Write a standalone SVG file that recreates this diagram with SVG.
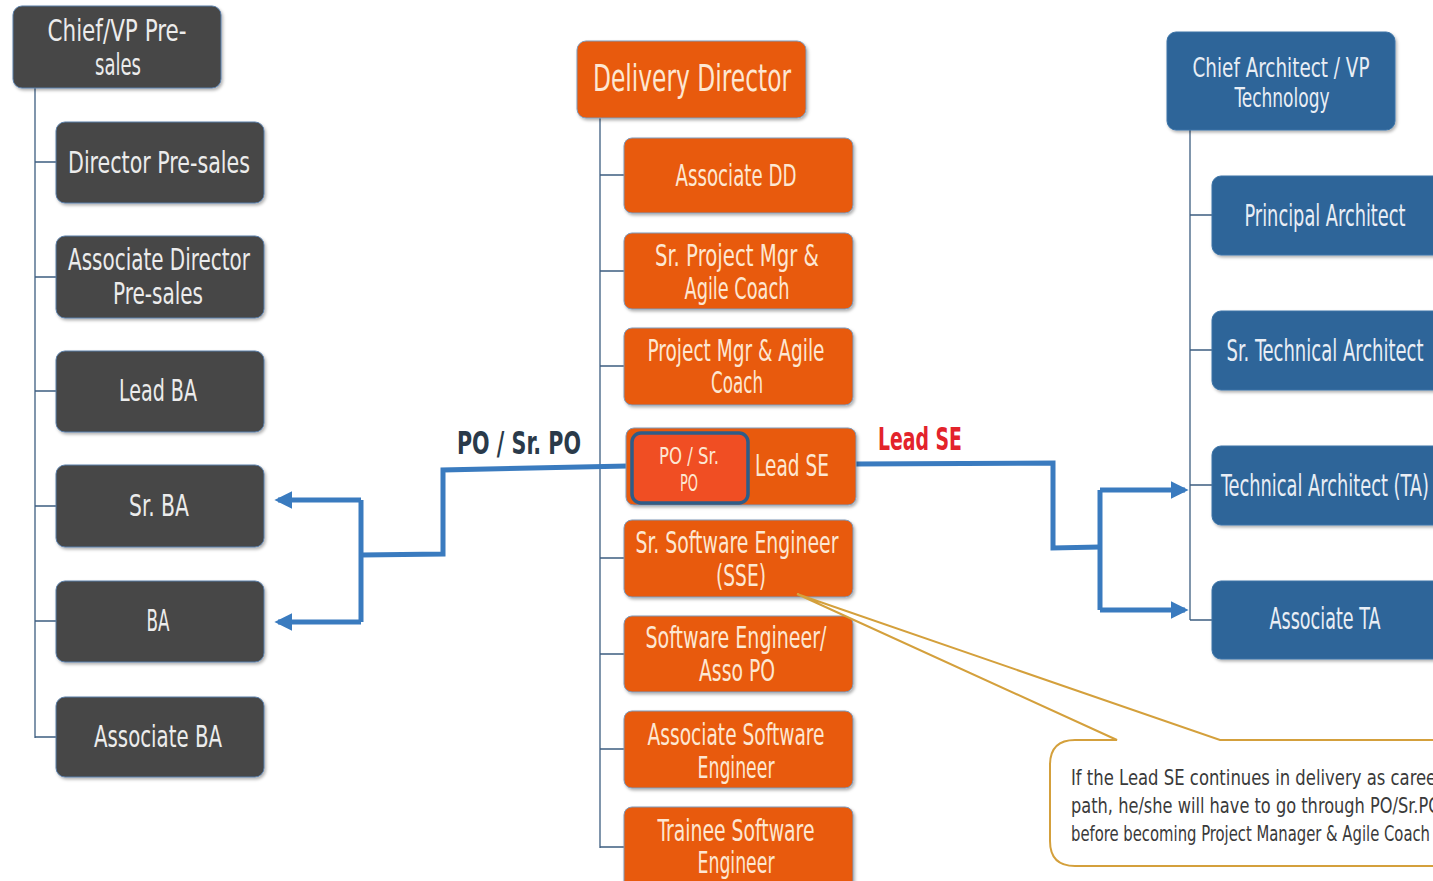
<svg xmlns="http://www.w3.org/2000/svg" width="1433" height="881" viewBox="0 0 1433 881">
<defs>
<filter id="sh" x="-10%" y="-10%" width="125%" height="130%">
<feDropShadow dx="1.5" dy="2" stdDeviation="1.5" flood-color="#000" flood-opacity="0.3"/>
</filter>
<marker id="ah" viewBox="0 0 10 10" refX="8" refY="5" markerWidth="3.6" markerHeight="3.6" orient="auto">
<path d="M0,0 L10,5 L0,10 z" fill="#3a7bbf"/>
</marker>
<style>
text{font-family:"DejaVu Sans Condensed","Liberation Sans Narrow","DejaVu Sans",sans-serif;text-anchor:middle;dominant-baseline:central}
.g rect{fill:#474747;stroke:#5a7ea8;stroke-width:1;filter:url(#sh)}
.g text{fill:#ececec;font-size:30px}
.o rect{fill:#e85a0d;stroke:#7e99b8;stroke-width:1;filter:url(#sh)}
.o text{fill:#fde7d2;font-size:30px}
.b rect{fill:#2d6599;stroke:#3c74a8;stroke-width:1;filter:url(#sh)}
.b text{fill:#e9eef5;font-size:30px}
.tree{stroke:#3d5e80;stroke-width:1.3;fill:none}
.conn{stroke:#3a7bbf;stroke-width:5;fill:none;stroke-linejoin:miter}
.lbl{font-weight:bold;font-size:32px}
.note{fill:#3a3a3a;font-size:22px;text-anchor:start}
</style>
</defs>

<g id="connectors">
<path class="tree" d="M35,88 V738 M35,162 H56 M35,277 H56 M35,391 H56 M35,506 H56 M35,621 H56 M35,737 H56"/>
<path class="tree" d="M600,118 V848 M600,175 H624 M600,271 H624 M600,366 H624 M600,466 H626 M600,558 H624 M600,654 H624 M600,749 H624 M600,847 H624"/>
<path class="tree" d="M1190,130 V620 M1190,215 H1212 M1190,350 H1212 M1190,485 H1212 M1190,620 H1212"/>
<path class="conn" d="M628,466 L443,470 L443,554 L361,555"/>
<path class="conn" d="M361,500 V622"/>
<path class="conn" d="M361,500 H278" marker-end="url(#ah)"/>
<path class="conn" d="M361,622 H278" marker-end="url(#ah)"/>
<path class="conn" d="M856,464 L1053,463 L1053,548 L1100,547"/>
<path class="conn" d="M1100,490 V610"/>
<path class="conn" d="M1100,490 H1185" marker-end="url(#ah)"/>
<path class="conn" d="M1100,610 H1185" marker-end="url(#ah)"/>
</g>

<text x="519" y="443" class="lbl" fill="#2a3a4a" textLength="124" lengthAdjust="spacingAndGlyphs">PO / Sr. PO</text>
<text x="920" y="439" class="lbl" fill="#e3232b" textLength="84" lengthAdjust="spacingAndGlyphs">Lead  SE</text>

<g id="n-chief-presales" class="g"><rect x="13" y="6" width="208" height="82" rx="9"/><text x="117" y="30" textLength="139" lengthAdjust="spacingAndGlyphs">Chief/VP  Pre-</text><text x="118" y="64" textLength="46" lengthAdjust="spacingAndGlyphs">sales</text></g>
<g id="n-director-presales" class="g"><rect x="56" y="122" width="208" height="81" rx="9"/><text x="159" y="162" textLength="182" lengthAdjust="spacingAndGlyphs">Director  Pre-sales</text></g>
<g id="n-assoc-director-presales" class="g"><rect x="56" y="236" width="208" height="82" rx="9"/><text x="159" y="259" textLength="182" lengthAdjust="spacingAndGlyphs">Associate  Director</text><text x="158" y="293" textLength="90" lengthAdjust="spacingAndGlyphs">Pre-sales</text></g>
<g id="n-lead-ba" class="g"><rect x="56" y="351" width="208" height="81" rx="9"/><text x="158" y="390" textLength="78" lengthAdjust="spacingAndGlyphs">Lead  BA</text></g>
<g id="n-sr-ba" class="g"><rect x="56" y="465" width="208" height="82" rx="9"/><text x="159" y="505" textLength="60" lengthAdjust="spacingAndGlyphs">Sr. BA</text></g>
<g id="n-ba" class="g"><rect x="56" y="581" width="208" height="81" rx="9"/><text x="158" y="620" textLength="23" lengthAdjust="spacingAndGlyphs">BA</text></g>
<g id="n-assoc-ba" class="g"><rect x="56" y="697" width="208" height="80" rx="9"/><text x="158" y="736" textLength="128" lengthAdjust="spacingAndGlyphs">Associate  BA</text></g>

<g id="n-delivery-director" class="o"><rect x="577" y="41" width="229" height="77" rx="9"/><text x="692" y="78" style="font-size:38px" textLength="198" lengthAdjust="spacingAndGlyphs">Delivery  Director</text></g>
<g id="n-assoc-dd" class="o"><rect x="624" y="138" width="229" height="75" rx="8"/><text x="736" y="175" textLength="121" lengthAdjust="spacingAndGlyphs">Associate  DD</text></g>
<g id="n-sr-pm" class="o"><rect x="624" y="233" width="229" height="76" rx="8"/><text x="737" y="255" textLength="164" lengthAdjust="spacingAndGlyphs">Sr. Project  Mgr  &amp;</text><text x="737" y="288" textLength="105" lengthAdjust="spacingAndGlyphs">Agile  Coach</text></g>
<g id="n-pm" class="o"><rect x="624" y="328" width="229" height="77" rx="8"/><text x="736" y="350" textLength="177" lengthAdjust="spacingAndGlyphs">Project  Mgr  &amp; Agile</text><text x="737" y="382" textLength="52" lengthAdjust="spacingAndGlyphs">Coach</text></g>
<g id="n-lead-se" class="o"><rect x="626" y="428" width="230" height="77" rx="8"/><text x="792" y="465" textLength="74" lengthAdjust="spacingAndGlyphs">Lead  SE</text></g>
<g id="n-po" class="o"><rect x="632" y="433" width="116" height="70" rx="9" style="fill:#f04e23;stroke:#2e5c88;stroke-width:3.5;filter:none"/><text x="689" y="456" style="font-size:23px" textLength="60" lengthAdjust="spacingAndGlyphs">PO / Sr.</text><text x="689" y="483" style="font-size:23px" textLength="18" lengthAdjust="spacingAndGlyphs">PO</text></g>
<g id="n-sse" class="o"><rect x="624" y="520" width="229" height="77" rx="8"/><text x="737" y="542" textLength="203" lengthAdjust="spacingAndGlyphs">Sr. Software  Engineer</text><text x="741" y="575" textLength="50" lengthAdjust="spacingAndGlyphs">(SSE)</text></g>
<g id="n-se" class="o"><rect x="624" y="616" width="229" height="76" rx="8"/><text x="736" y="637" textLength="181" lengthAdjust="spacingAndGlyphs">Software  Engineer/</text><text x="737" y="670" textLength="76" lengthAdjust="spacingAndGlyphs">Asso  PO</text></g>
<g id="n-ase" class="o"><rect x="624" y="711" width="229" height="77" rx="8"/><text x="736" y="734" textLength="177" lengthAdjust="spacingAndGlyphs">Associate  Software</text><text x="736" y="767" textLength="77" lengthAdjust="spacingAndGlyphs">Engineer</text></g>
<g id="n-tse" class="o"><rect x="624" y="807" width="229" height="84" rx="8"/><text x="736" y="830" textLength="157" lengthAdjust="spacingAndGlyphs">Trainee  Software</text><text x="736" y="862" textLength="77" lengthAdjust="spacingAndGlyphs">Engineer</text></g>

<g id="n-chief-architect" class="b"><rect x="1167" y="32" width="228" height="98" rx="9"/><text x="1281" y="67" style="font-size:27px" textLength="177" lengthAdjust="spacingAndGlyphs">Chief Architect / VP</text><text x="1282" y="97" style="font-size:27px" textLength="95" lengthAdjust="spacingAndGlyphs">Technology</text></g>
<g id="n-principal-architect" class="b"><rect x="1212" y="176" width="240" height="79" rx="9"/><text x="1325" y="215" textLength="161" lengthAdjust="spacingAndGlyphs">Principal Architect</text></g>
<g id="n-sr-ta" class="b"><rect x="1212" y="311" width="240" height="79" rx="9"/><text x="1325" y="350" textLength="197" lengthAdjust="spacingAndGlyphs">Sr. Technical Architect</text></g>
<g id="n-ta" class="b"><rect x="1212" y="446" width="240" height="79" rx="9"/><text x="1325" y="485" textLength="208" lengthAdjust="spacingAndGlyphs">Technical Architect (TA)</text></g>
<g id="n-assoc-ta" class="b"><rect x="1212" y="581" width="240" height="78" rx="9"/><text x="1325" y="618" textLength="111" lengthAdjust="spacingAndGlyphs">Associate TA</text></g>

<g id="n-callout">
<path d="M1075,740 H1117 L797,594 L1220,740 H1460 V866 H1075 Q1050,866 1050,841 V765 Q1050,740 1075,740 Z" fill="#fff" stroke="#d4a03c" stroke-width="2"/>
<text class="note" x="1071" y="777" textLength="372" lengthAdjust="spacingAndGlyphs">If the Lead SE continues in delivery as career</text>
<text class="note" x="1071" y="805" textLength="370" lengthAdjust="spacingAndGlyphs">path, he/she will have to go through PO/Sr.PO</text>
<text class="note" x="1071" y="833" textLength="359" lengthAdjust="spacingAndGlyphs">before  becoming  Project  Manager  &amp; Agile  Coach</text>
</g>
</svg>
